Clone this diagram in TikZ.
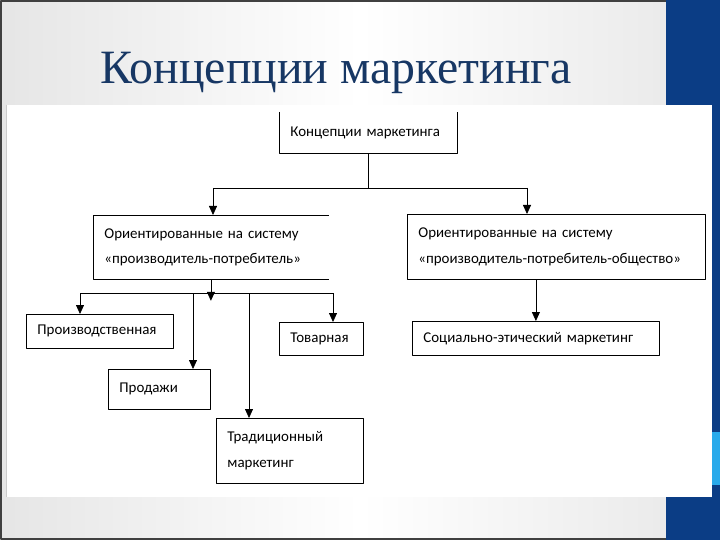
\documentclass[tikz,border=0pt]{standalone}
\usepackage{fontspec}
\usetikzlibrary{arrows.meta}
\setmainfont{Carlito}
\newfontfamily\titlefont{Liberation Serif}
\definecolor{slideblue}{RGB}{11,61,133}
\definecolor{lightblue}{RGB}{40,170,235}
\definecolor{titleblue}{RGB}{23,55,100}
\begin{document}
\begin{tikzpicture}[x=1bp,y=-1bp,font=\fontsize{15}{26}\selectfont,line join=round,>={Triangle[length=9bp,width=8bp]},
	box/.style={draw,line width=0.8bp,inner xsep=11bp,inner ysep=0pt,align=left,anchor=north west},
	openbox/.style={box,draw=none},
	link/.style={line width=0.8bp}]
			\useasboundingbox (0,0) rectangle (720,540);
			
			\shade[left color=black!10,right color=white] (0,0) rectangle (360,540);
			\shade[left color=white,right color=black!8] (360,0) rectangle (666,540);
			\draw[black!75,line width=2bp] (720,1) -- (1,1) -- (1,539) -- (720,539);
			\fill[slideblue] (666,0) rectangle (720,540);
			\fill[white] (7,105) rectangle (712,497);
			\draw[black!20] (6,105) -- (6,497);
			\fill[lightblue] (712,432) rectangle (720,485);
			
			\node[font=\titlefont\fontsize{48}{52}\selectfont,text=titleblue,anchor=base] (title) at (336,84) {Концепции маркетинга};
			
			\node[openbox,text width=156bp,minimum height=41bp] (top) at (279,112) {Концепции маркетинга};
			\node[openbox,text width=213bp,minimum height=64bp] (L1) at (93,215) {Ориентированные на систему\\«производитель-потребитель»};
			\node[box,text width=276bp,minimum height=65bp] (R1) at (407,214) {Ориентированные на систему\\«производитель-потребитель-общество»};
			\node[box,text width=125bp,minimum height=34bp] (prod) at (26,314) {Производственная};
			\node[box,text width=62bp,minimum height=33bp] (tov) at (279,322) {Товарная};
			\node[box,text width=80bp,minimum height=40bp] (sales) at (108,369) {Продажи};
			\node[box,text width=125bp,minimum height=65bp] (trad) at (216,418) {Традиционный\\маркетинг};
			\node[box,text width=225bp,minimum height=34bp] (soc) at (412,321) {Социально-этический маркетинг};
			
			\draw[link] (top.north west) -- (top.south west) -- (top.south east) -- (top.north east);
			\draw[link] (L1.north east) -- (L1.north west) -- (L1.south west) -- (L1.south east);
			
			\coordinate (hl) at (213,188);
			\coordinate (hr) at (527,188);
			\coordinate (bl) at (80,293);
			\coordinate (b3) at (193,293);
			\coordinate (b4) at (249,293);
			\coordinate (br) at (333,293);
			
			\draw[link] (top.south) -- (top.south |- hl);
			\draw[link] (hl) -- (hr);
			\draw[link,->] (hl) -- (hl |- L1.north);
			\draw[link,->] (hr) -- (hr |- R1.north);
			
			\draw[link,->] (L1.south) -- ++(0,21);
			\draw[link] (bl) -- (br);
			\foreach \c/\n in {bl/prod,b3/sales,b4/trad,br/tov}
			\draw[link,->] (\c) -- (\c |- \n.north);
			
			\draw[link,->] (soc.north |- R1.south) -- (soc.north);
		\end{tikzpicture}
\end{document}
